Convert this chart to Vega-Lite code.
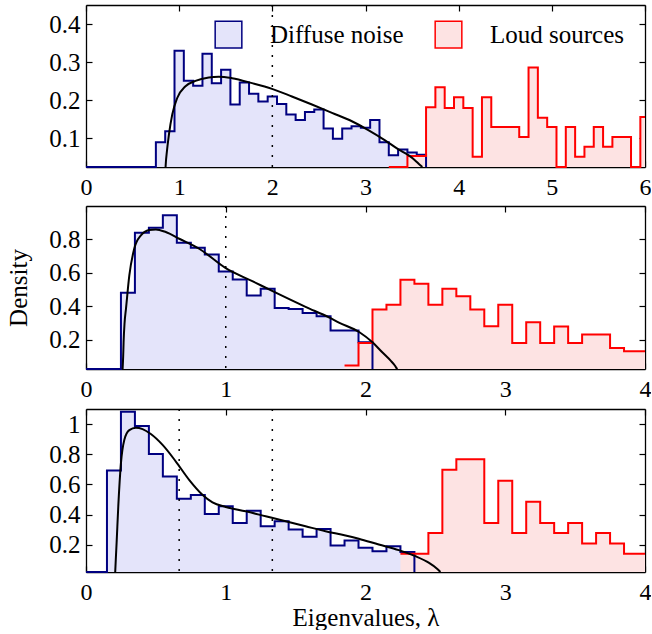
{
  "$schema": "https://vega.github.io/schema/vega-lite/v6.json",
  "padding": {"left": 6, "top": 4, "right": 0, "bottom": 0},
  "background": "white",
  "spacing": 6,
  "config": {
    "font": "Liberation Serif",
    "view": {"stroke": null},
    "text": {"font": "Liberation Serif"},
    "style": {"guide-label": {"font": "Liberation Serif"}, "guide-title": {"font": "Liberation Serif"}},
    "axis": {
      "labelFont": "Liberation Serif", "labelFontSize": 25, "labelColor": "black",
      "titleFont": "Liberation Serif", "titleFontSize": 25, "titleFontWeight": "normal", "titleColor": "black",
      "domainColor": "black", "domainWidth": 1.3, "tickColor": "black", "tickWidth": 1.2, "tickSize": -6,
      "grid": false, "labelPadding": 14, "labelFlush": false, "labelOverlap": false
    },
    "axisX": {"labelFont": "Liberation Serif", "labelFontSize": 24},
    "axisY": {"labelFont": "Liberation Serif", "labelPadding": 12}
  },
  "datasets": {
    "h1": [
      {"s": "Diffuse noise", "x": 0, "y": 0}, {"s": "Diffuse noise", "x": 0.75, "y": 0.09}, {"s": "Diffuse noise", "x": 0.85, "y": 0.119},
      {"s": "Diffuse noise", "x": 0.95, "y": 0.33}, {"s": "Diffuse noise", "x": 1.05, "y": 0.251}, {"s": "Diffuse noise", "x": 1.15, "y": 0.238},
      {"s": "Diffuse noise", "x": 1.25, "y": 0.322}, {"s": "Diffuse noise", "x": 1.35, "y": 0.245}, {"s": "Diffuse noise", "x": 1.45, "y": 0.28},
      {"s": "Diffuse noise", "x": 1.55, "y": 0.189}, {"s": "Diffuse noise", "x": 1.65, "y": 0.247}, {"s": "Diffuse noise", "x": 1.75, "y": 0.217},
      {"s": "Diffuse noise", "x": 1.85, "y": 0.197}, {"s": "Diffuse noise", "x": 1.95, "y": 0.21}, {"s": "Diffuse noise", "x": 2.05, "y": 0.19},
      {"s": "Diffuse noise", "x": 2.15, "y": 0.163}, {"s": "Diffuse noise", "x": 2.25, "y": 0.148}, {"s": "Diffuse noise", "x": 2.35, "y": 0.169},
      {"s": "Diffuse noise", "x": 2.45, "y": 0.176}, {"s": "Diffuse noise", "x": 2.55, "y": 0.126}, {"s": "Diffuse noise", "x": 2.65, "y": 0.099},
      {"s": "Diffuse noise", "x": 2.75, "y": 0.126}, {"s": "Diffuse noise", "x": 2.85, "y": 0.132}, {"s": "Diffuse noise", "x": 2.95, "y": 0.128},
      {"s": "Diffuse noise", "x": 3.05, "y": 0.148}, {"s": "Diffuse noise", "x": 3.15, "y": 0.09}, {"s": "Diffuse noise", "x": 3.25, "y": 0.056},
      {"s": "Diffuse noise", "x": 3.35, "y": 0.071}, {"s": "Diffuse noise", "x": 3.45, "y": 0.063}, {"s": "Diffuse noise", "x": 3.55, "y": 0.057},
      {"s": "Diffuse noise", "x": 3.65, "y": 0},
      {"s": "Loud sources", "x": 3.25, "y": 0}, {"s": "Loud sources", "x": 3.45, "y": 0.054}, {"s": "Loud sources", "x": 3.65, "y": 0.182},
      {"s": "Loud sources", "x": 3.75, "y": 0.234}, {"s": "Loud sources", "x": 3.85, "y": 0.18}, {"s": "Loud sources", "x": 3.95, "y": 0.208},
      {"s": "Loud sources", "x": 4.05, "y": 0.18}, {"s": "Loud sources", "x": 4.15, "y": 0.052}, {"s": "Loud sources", "x": 4.25, "y": 0.208},
      {"s": "Loud sources", "x": 4.35, "y": 0.13}, {"s": "Loud sources", "x": 4.65, "y": 0.104}, {"s": "Loud sources", "x": 4.75, "y": 0.286},
      {"s": "Loud sources", "x": 4.85, "y": 0.154}, {"s": "Loud sources", "x": 4.95, "y": 0.13}, {"s": "Loud sources", "x": 5.05, "y": 0},
      {"s": "Loud sources", "x": 5.15, "y": 0.13}, {"s": "Loud sources", "x": 5.25, "y": 0.052}, {"s": "Loud sources", "x": 5.35, "y": 0.078},
      {"s": "Loud sources", "x": 5.45, "y": 0.13}, {"s": "Loud sources", "x": 5.55, "y": 0.078}, {"s": "Loud sources", "x": 5.65, "y": 0.104},
      {"s": "Loud sources", "x": 5.85, "y": 0}, {"s": "Loud sources", "x": 5.95, "y": 0.156}, {"s": "Loud sources", "x": 6, "y": 0.156}
    ],
    "c1": [
      {"x": 0.854, "y": 0}, {"x": 0.858, "y": 0.04}, {"x": 0.865, "y": 0.058}, {"x": 0.89, "y": 0.11}, {"x": 0.926, "y": 0.163},
      {"x": 0.979, "y": 0.206}, {"x": 1.068, "y": 0.237}, {"x": 1.175, "y": 0.251}, {"x": 1.318, "y": 0.26}, {"x": 1.425, "y": 0.262},
      {"x": 1.568, "y": 0.258}, {"x": 1.782, "y": 0.245}, {"x": 1.996, "y": 0.23}, {"x": 2.21, "y": 0.21}, {"x": 2.425, "y": 0.189},
      {"x": 2.64, "y": 0.167}, {"x": 2.854, "y": 0.145}, {"x": 3.03, "y": 0.122}, {"x": 3.21, "y": 0.095}, {"x": 3.354, "y": 0.071},
      {"x": 3.46, "y": 0.056}, {"x": 3.53, "y": 0.043}, {"x": 3.585, "y": 0.03}, {"x": 3.61, "y": 0}
    ],
    "m1": [{"x": 2}],
    "h2": [
      {"s": "Diffuse noise", "x": 0, "y": 0}, {"s": "Diffuse noise", "x": 0.25, "y": 0.48}, {"s": "Diffuse noise", "x": 0.35, "y": 0.84},
      {"s": "Diffuse noise", "x": 0.45, "y": 0.87}, {"s": "Diffuse noise", "x": 0.55, "y": 0.944}, {"s": "Diffuse noise", "x": 0.65, "y": 0.78},
      {"s": "Diffuse noise", "x": 0.75, "y": 0.75}, {"s": "Diffuse noise", "x": 0.85, "y": 0.71}, {"s": "Diffuse noise", "x": 0.95, "y": 0.608},
      {"s": "Diffuse noise", "x": 1.05, "y": 0.56}, {"s": "Diffuse noise", "x": 1.15, "y": 0.464}, {"s": "Diffuse noise", "x": 1.25, "y": 0.504},
      {"s": "Diffuse noise", "x": 1.35, "y": 0.39}, {"s": "Diffuse noise", "x": 1.45, "y": 0.384}, {"s": "Diffuse noise", "x": 1.55, "y": 0.36},
      {"s": "Diffuse noise", "x": 1.65, "y": 0.34}, {"s": "Diffuse noise", "x": 1.75, "y": 0.254}, {"s": "Diffuse noise", "x": 1.85, "y": 0.254},
      {"s": "Diffuse noise", "x": 1.95, "y": 0.184}, {"s": "Diffuse noise", "x": 2.05, "y": 0},
      {"s": "Loud sources", "x": 1.85, "y": 0.045}, {"s": "Loud sources", "x": 1.95, "y": 0.18}, {"s": "Loud sources", "x": 2.05, "y": 0.38},
      {"s": "Loud sources", "x": 2.15, "y": 0.408}, {"s": "Loud sources", "x": 2.25, "y": 0.558}, {"s": "Loud sources", "x": 2.35, "y": 0.534},
      {"s": "Loud sources", "x": 2.45, "y": 0.408}, {"s": "Loud sources", "x": 2.55, "y": 0.504}, {"s": "Loud sources", "x": 2.65, "y": 0.46},
      {"s": "Loud sources", "x": 2.75, "y": 0.38}, {"s": "Loud sources", "x": 2.85, "y": 0.28}, {"s": "Loud sources", "x": 2.95, "y": 0.408},
      {"s": "Loud sources", "x": 3.05, "y": 0.18}, {"s": "Loud sources", "x": 3.15, "y": 0.304}, {"s": "Loud sources", "x": 3.25, "y": 0.18},
      {"s": "Loud sources", "x": 3.35, "y": 0.278}, {"s": "Loud sources", "x": 3.45, "y": 0.18}, {"s": "Loud sources", "x": 3.55, "y": 0.23},
      {"s": "Loud sources", "x": 3.65, "y": 0.23}, {"s": "Loud sources", "x": 3.75, "y": 0.15}, {"s": "Loud sources", "x": 3.85, "y": 0.13},
      {"s": "Loud sources", "x": 4, "y": 0.13}
    ],
    "c2": [
      {"x": 0.262, "y": 0}, {"x": 0.266, "y": 0.1}, {"x": 0.269, "y": 0.184}, {"x": 0.276, "y": 0.3}, {"x": 0.286, "y": 0.384},
      {"x": 0.31, "y": 0.584}, {"x": 0.345, "y": 0.744}, {"x": 0.393, "y": 0.824}, {"x": 0.452, "y": 0.856}, {"x": 0.5, "y": 0.86},
      {"x": 0.571, "y": 0.844}, {"x": 0.667, "y": 0.804}, {"x": 0.81, "y": 0.744}, {"x": 1.0, "y": 0.628}, {"x": 1.19, "y": 0.55},
      {"x": 1.38, "y": 0.472}, {"x": 1.571, "y": 0.396}, {"x": 1.738, "y": 0.333}, {"x": 1.81, "y": 0.302}, {"x": 1.957, "y": 0.244},
      {"x": 2.05, "y": 0.184}, {"x": 2.12, "y": 0.124}, {"x": 2.18, "y": 0.074}, {"x": 2.21, "y": 0.045}, {"x": 2.225, "y": 0.026},
      {"x": 2.23, "y": 0}
    ],
    "m2": [{"x": 1}],
    "h3": [
      {"s": "Diffuse noise", "x": 0, "y": 0}, {"s": "Diffuse noise", "x": 0.15, "y": 0.692}, {"s": "Diffuse noise", "x": 0.25, "y": 1.081},
      {"s": "Diffuse noise", "x": 0.35, "y": 0.987}, {"s": "Diffuse noise", "x": 0.45, "y": 0.802}, {"s": "Diffuse noise", "x": 0.55, "y": 0.653},
      {"s": "Diffuse noise", "x": 0.65, "y": 0.505}, {"s": "Diffuse noise", "x": 0.75, "y": 0.53}, {"s": "Diffuse noise", "x": 0.85, "y": 0.404},
      {"s": "Diffuse noise", "x": 0.95, "y": 0.455}, {"s": "Diffuse noise", "x": 1.05, "y": 0.345}, {"s": "Diffuse noise", "x": 1.15, "y": 0.426},
      {"s": "Diffuse noise", "x": 1.25, "y": 0.323}, {"s": "Diffuse noise", "x": 1.35, "y": 0.356}, {"s": "Diffuse noise", "x": 1.45, "y": 0.301},
      {"s": "Diffuse noise", "x": 1.55, "y": 0.253}, {"s": "Diffuse noise", "x": 1.65, "y": 0.305}, {"s": "Diffuse noise", "x": 1.75, "y": 0.196},
      {"s": "Diffuse noise", "x": 1.85, "y": 0.229}, {"s": "Diffuse noise", "x": 1.95, "y": 0.18}, {"s": "Diffuse noise", "x": 2.05, "y": 0.158},
      {"s": "Diffuse noise", "x": 2.15, "y": 0.191}, {"s": "Diffuse noise", "x": 2.25, "y": 0.152}, {"s": "Diffuse noise", "x": 2.35, "y": 0},
      {"s": "Loud sources", "x": 2.25, "y": 0.141}, {"s": "Loud sources", "x": 2.35, "y": 0.141}, {"s": "Loud sources", "x": 2.45, "y": 0.279},
      {"s": "Loud sources", "x": 2.55, "y": 0.697}, {"s": "Loud sources", "x": 2.65, "y": 0.767}, {"s": "Loud sources", "x": 2.75, "y": 0.767},
      {"s": "Loud sources", "x": 2.85, "y": 0.345}, {"s": "Loud sources", "x": 2.95, "y": 0.624}, {"s": "Loud sources", "x": 3.05, "y": 0.279},
      {"s": "Loud sources", "x": 3.15, "y": 0.486}, {"s": "Loud sources", "x": 3.25, "y": 0.345}, {"s": "Loud sources", "x": 3.35, "y": 0.279},
      {"s": "Loud sources", "x": 3.45, "y": 0.345}, {"s": "Loud sources", "x": 3.55, "y": 0.209}, {"s": "Loud sources", "x": 3.65, "y": 0.279},
      {"s": "Loud sources", "x": 3.75, "y": 0.209}, {"s": "Loud sources", "x": 3.85, "y": 0.141}, {"s": "Loud sources", "x": 4, "y": 0.141}
    ],
    "c3": [
      {"x": 0.209, "y": 0}, {"x": 0.213, "y": 0.1}, {"x": 0.219, "y": 0.213}, {"x": 0.231, "y": 0.455}, {"x": 0.25, "y": 0.741},
      {"x": 0.274, "y": 0.895}, {"x": 0.31, "y": 0.96}, {"x": 0.357, "y": 0.976}, {"x": 0.405, "y": 0.967}, {"x": 0.464, "y": 0.934},
      {"x": 0.548, "y": 0.862}, {"x": 0.643, "y": 0.752}, {"x": 0.738, "y": 0.631}, {"x": 0.833, "y": 0.532}, {"x": 0.905, "y": 0.481},
      {"x": 1.0, "y": 0.451}, {"x": 1.143, "y": 0.422}, {"x": 1.286, "y": 0.389}, {"x": 1.429, "y": 0.356}, {"x": 1.571, "y": 0.323},
      {"x": 1.714, "y": 0.29}, {"x": 1.857, "y": 0.262}, {"x": 1.952, "y": 0.24}, {"x": 2.095, "y": 0.202}, {"x": 2.238, "y": 0.165},
      {"x": 2.357, "y": 0.125}, {"x": 2.452, "y": 0.082}, {"x": 2.512, "y": 0.042}, {"x": 2.536, "y": 0}
    ],
    "m3": [{"x": 0.6667}, {"x": 1.3333}]
  },
  "resolve": {"scale": {"fill": "independent", "stroke": "independent"}},
  "vconcat": [
    {
      "width": 559, "height": 162,
      "resolve": {"axis": {"x": "independent", "y": "independent"}},
      "layer": [
        {
          "data": {"name": "h1"},
          "mark": {"type": "area", "interpolate": "step-after"},
          "encoding": {
            "x": {"field": "x", "type": "quantitative", "scale": {"domain": [0, 6], "nice": false}, "axis": {"orient": "bottom", "values": [0, 1, 2, 3, 4, 5, 6], "format": "d", "title": null, "labelFont": "Liberation Serif"}},
            "y": {"field": "y", "type": "quantitative", "stack": null, "scale": {"domain": [0.025, 0.45], "clamp": true, "nice": false, "zero": false}, "axis": {"orient": "left", "values": [0.1, 0.2, 0.3, 0.4], "format": "~g", "title": null, "labelFont": "Liberation Serif"}},
            "fill": {"field": "s", "type": "nominal", "scale": {"domain": ["Diffuse noise", "Loud sources"], "range": ["#e4e4fa", "#fde3e3"]},
              "legend": {"orient": "none", "legendX": 128, "legendY": 15, "direction": "horizontal", "title": null, "symbolType": "square", "symbolSize": 711, "symbolStrokeWidth": 1.5, "labelFont": "Liberation Serif", "labelFontSize": 25, "labelColor": "black", "labelOffset": 27, "columnPadding": 28, "padding": 0,
                "encode": {"symbols": {"update": {"stroke": {"signal": "datum.value === 'Diffuse noise' ? '#000080' : '#ff0000'"}, "strokeWidth": {"value": 1.5}}}}}}
          }
        },
        {
          "data": {"name": "h1"},
          "mark": {"type": "line", "interpolate": "step-after", "strokeWidth": 2},
          "encoding": {
            "x": {"field": "x", "type": "quantitative", "scale": {"domain": [0, 6], "nice": false}, "axis": {"orient": "top", "values": [0, 1, 2, 3, 4, 5, 6], "labels": false, "title": null}},
            "y": {"field": "y", "type": "quantitative", "scale": {"domain": [0.025, 0.45], "clamp": true, "nice": false, "zero": false}, "axis": {"orient": "right", "values": [0.1, 0.2, 0.3, 0.4], "labels": false, "title": null}},
            "stroke": {"field": "s", "type": "nominal", "scale": {"domain": ["Diffuse noise", "Loud sources"], "range": ["#000080", "#ff0000"]}, "legend": null}
          }
        },
        {
          "data": {"name": "c1"},
          "mark": {"type": "line", "interpolate": "monotone", "color": "black", "strokeWidth": 2},
          "encoding": {
            "x": {"field": "x", "type": "quantitative", "axis": null},
            "y": {"field": "y", "type": "quantitative", "axis": null}
          }
        },
        {
          "data": {"name": "m1"},
          "mark": {"type": "rule", "color": "black", "strokeWidth": 1.5, "strokeDash": [2, 8]},
          "encoding": {"x": {"field": "x", "type": "quantitative", "axis": null}}
        }
      ]
    },
    {
      "width": 559, "height": 163,
      "resolve": {"axis": {"x": "independent", "y": "independent"}},
      "layer": [
        {
          "data": {"name": "h2"},
          "mark": {"type": "area", "interpolate": "step-after"},
          "encoding": {
            "x": {"field": "x", "type": "quantitative", "scale": {"domain": [0, 4], "nice": false}, "axis": {"orient": "bottom", "values": [0, 1, 2, 3, 4], "format": "d", "title": null, "labelFont": "Liberation Serif"}},
            "y": {"field": "y", "type": "quantitative", "stack": null, "scale": {"domain": [0.024, 1.0], "clamp": true, "nice": false, "zero": false}, "axis": {"orient": "left", "values": [0.2, 0.4, 0.6, 0.8], "format": "~g", "title": "Density", "titlePadding": 17, "labelFont": "Liberation Serif", "titleFont": "Liberation Serif"}},
            "fill": {"field": "s", "type": "nominal", "scale": {"domain": ["Diffuse noise", "Loud sources"], "range": ["#e4e4fa", "#fde3e3"]}, "legend": null}
          }
        },
        {
          "data": {"name": "h2"},
          "mark": {"type": "line", "interpolate": "step-after", "strokeWidth": 2},
          "encoding": {
            "x": {"field": "x", "type": "quantitative", "scale": {"domain": [0, 4], "nice": false}, "axis": {"orient": "top", "values": [0, 1, 2, 3, 4], "labels": false, "title": null}},
            "y": {"field": "y", "type": "quantitative", "scale": {"domain": [0.024, 1.0], "clamp": true, "nice": false, "zero": false}, "axis": {"orient": "right", "values": [0.2, 0.4, 0.6, 0.8], "labels": false, "title": null}},
            "stroke": {"field": "s", "type": "nominal", "scale": {"domain": ["Diffuse noise", "Loud sources"], "range": ["#000080", "#ff0000"]}, "legend": null}
          }
        },
        {
          "data": {"name": "c2"},
          "mark": {"type": "line", "interpolate": "monotone", "color": "black", "strokeWidth": 2},
          "encoding": {
            "x": {"field": "x", "type": "quantitative", "axis": null},
            "y": {"field": "y", "type": "quantitative", "axis": null}
          }
        },
        {
          "data": {"name": "m2"},
          "mark": {"type": "rule", "color": "black", "strokeWidth": 1.5, "strokeDash": [2, 8]},
          "encoding": {"x": {"field": "x", "type": "quantitative", "axis": null}}
        }
      ]
    },
    {
      "width": 559, "height": 163,
      "resolve": {"axis": {"x": "independent", "y": "independent"}},
      "layer": [
        {
          "data": {"name": "h3"},
          "mark": {"type": "area", "interpolate": "step-after"},
          "encoding": {
            "x": {"field": "x", "type": "quantitative", "scale": {"domain": [0, 4], "nice": false}, "axis": {"orient": "bottom", "values": [0, 1, 2, 3, 4], "format": "d", "title": "Eigenvalues, λ", "titlePadding": 1, "labelFont": "Liberation Serif", "titleFont": "Liberation Serif"}},
            "y": {"field": "y", "type": "quantitative", "stack": null, "scale": {"domain": [0.02, 1.1], "clamp": true, "nice": false, "zero": false}, "axis": {"orient": "left", "values": [0.2, 0.4, 0.6, 0.8, 1], "format": "~g", "title": null, "labelFont": "Liberation Serif"}},
            "fill": {"field": "s", "type": "nominal", "scale": {"domain": ["Diffuse noise", "Loud sources"], "range": ["#e4e4fa", "#fde3e3"]}, "legend": null}
          }
        },
        {
          "data": {"name": "h3"},
          "mark": {"type": "line", "interpolate": "step-after", "strokeWidth": 2},
          "encoding": {
            "x": {"field": "x", "type": "quantitative", "scale": {"domain": [0, 4], "nice": false}, "axis": {"orient": "top", "values": [0, 1, 2, 3, 4], "labels": false, "title": null}},
            "y": {"field": "y", "type": "quantitative", "scale": {"domain": [0.02, 1.1], "clamp": true, "nice": false, "zero": false}, "axis": {"orient": "right", "values": [0.2, 0.4, 0.6, 0.8, 1], "labels": false, "title": null}},
            "stroke": {"field": "s", "type": "nominal", "scale": {"domain": ["Diffuse noise", "Loud sources"], "range": ["#000080", "#ff0000"]}, "legend": null}
          }
        },
        {
          "data": {"name": "c3"},
          "mark": {"type": "line", "interpolate": "monotone", "color": "black", "strokeWidth": 2},
          "encoding": {
            "x": {"field": "x", "type": "quantitative", "axis": null},
            "y": {"field": "y", "type": "quantitative", "axis": null}
          }
        },
        {
          "data": {"name": "m3"},
          "mark": {"type": "rule", "color": "black", "strokeWidth": 1.5, "strokeDash": [2, 8]},
          "encoding": {"x": {"field": "x", "type": "quantitative", "axis": null}}
        }
      ]
    }
  ]
}
